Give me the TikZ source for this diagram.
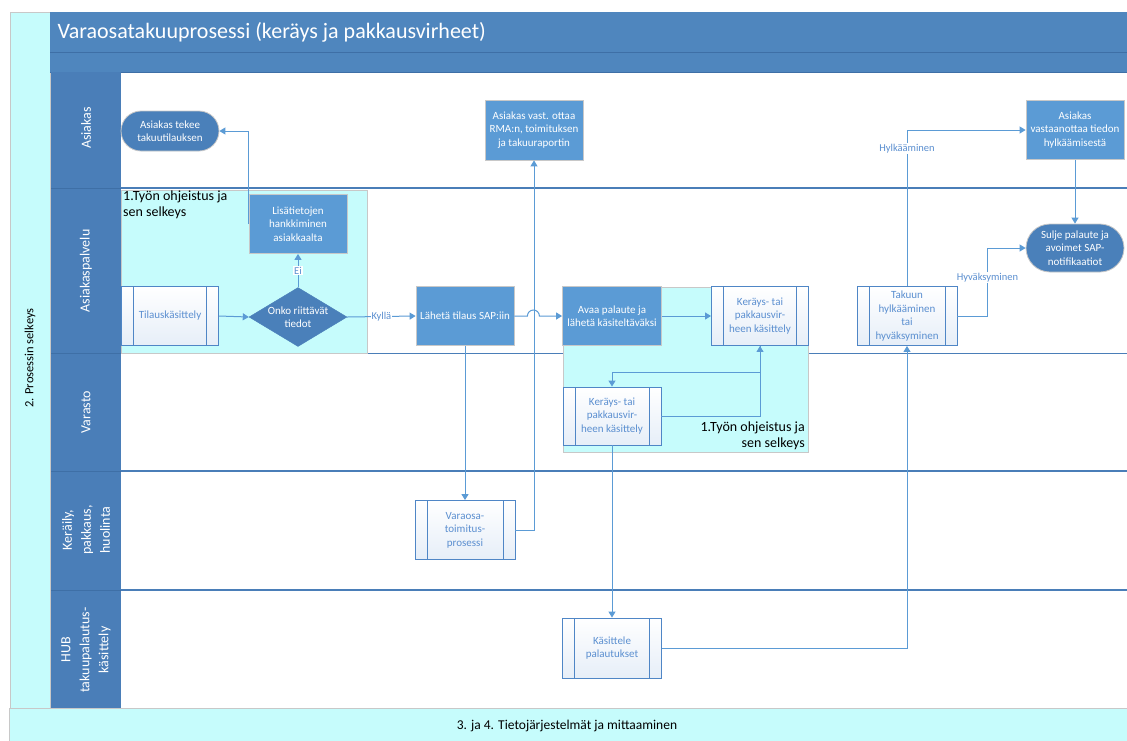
\documentclass[tikz,border=0pt]{standalone}
\usepackage{fontspec}
\setmainfont{Carlito}
\usetikzlibrary{arrows.meta,shapes.geometric,calc}

\definecolor{hdrblue}{HTML}{4F86BE}
\definecolor{hdrline}{HTML}{3E6FA6}
\definecolor{lanelbl}{HTML}{4A7EB8}
\definecolor{procblue}{HTML}{5B9BD5}
\definecolor{termblue}{HTML}{4A80BA}
\definecolor{cyanbg}{HTML}{C6FCFC}
\definecolor{linkblue}{HTML}{5B9BD5}
\definecolor{framegray}{HTML}{C8C8C8}
\definecolor{subline}{HTML}{4F86C6}
\definecolor{subfill}{HTML}{E6EEF8}
\definecolor{subtext}{HTML}{5B8FD0}
\definecolor{sepblue}{HTML}{4A7EB8}

\begin{document}
\begin{tikzpicture}[x=1pt,y=-1pt,
  nodefont/.style={font=\fontsize{11}{13.5}\selectfont},
  proc/.style={nodefont, draw=framegray, line width=0.8pt, fill=procblue, text=white,
    minimum width=98pt, minimum height=59pt, inner sep=1pt, align=center},
  term/.style={nodefont, draw=framegray, line width=0.8pt, fill=termblue, text=white,
    minimum width=98pt, minimum height=40pt, rounded corners=20pt, inner sep=1pt, align=center},
  decision/.style={diamond, draw=termblue, fill=termblue, minimum width=98pt,
    minimum height=59pt, inner sep=0pt},
  subproc/.style={nodefont, draw=subline, line width=0.9pt, top color=white, bottom color=subfill,
    text=subtext, minimum width=98pt, minimum height=59pt, inner sep=1pt, align=center,
    path picture={\draw[subline, line width=0.9pt]
      ([xshift=12pt]path picture bounding box.north west) -- ([xshift=12pt]path picture bounding box.south west)
      ([xshift=-12pt]path picture bounding box.north east) -- ([xshift=-12pt]path picture bounding box.south east);}},
  link/.style={draw=linkblue, line width=1pt, -{Triangle[width=7pt,length=6pt]}},
  lbl/.style={font=\fontsize{10.5}{12}\selectfont, text=subtext, fill=white, inner sep=1pt},
  lanetxt/.style={font=\fontsize{14}{19}\selectfont, text=white, rotate=90, align=center},
  region/.style={fill=cyanbg, draw=framegray, line width=0.8pt},
  regiontxt/.style={font=\fontsize{14}{16}\selectfont, text=black},
  sep/.style={draw=sepblue, line width=1.3pt}
]
\useasboundingbox (0,0) rectangle (1127,740);
\fill[white] (0,0) rectangle (1127,740);

% outer frame: left strip and bottom bar
\draw[region] (10,12) rectangle (50,708);
\node[font=\fontsize{12.5}{14}\selectfont, rotate=90] (leftlbl) at (30,358) {2. Prosessin selkeys};
\draw[region] (9,708) rectangle (1130,742);
\node[font=\fontsize{13.5}{15}\selectfont] (bottomlbl) at (567,726) {3. ja 4. Tietojärjestelmät ja mittaaminen};

% title bars
\fill[hdrblue] (50,12) rectangle (1127,72);
\draw[hdrline, line width=1pt] (50,52) -- (1127,52);
\draw[hdrline, line width=1pt] (50,72) -- (1127,72);
\node[anchor=west, text=white, font=\fontsize{22}{25}\selectfont] (title) at (54,32)
  {Varaosatakuuprosessi (keräys ja pakkausvirheet)};

% lane label column
\fill[lanelbl] (51,72) rectangle (121,708);
\foreach \yy in {188,353,471,590} \draw[hdrline, line width=1pt] (51,\yy) -- (121,\yy);
\node[lanetxt] (lA) at (86,128) {Asiakas};
\node[lanetxt] (lB) at (86,271) {Asiakaspalvelu};
\node[lanetxt] (lC) at (86,412) {Varasto};
\node[lanetxt] (lD) at (86,530) {Keräily,\\pakkaus,\\huolinta};
\node[lanetxt] (lE) at (86,650) {HUB\\takuupalautus-\\käsittely};

% lane separators
\draw[sep, line width=2pt] (121,188) -- (1127,188);
\draw[sep] (121,353.5) -- (1127,353.5);
\draw[sep] (121,471) -- (1127,471);
\draw[sep] (121,590) -- (1127,590);

% shaded regions
\draw[region] (121,190) rectangle (367,353);
\node[regiontxt, anchor=north west, align=left, inner sep=2pt] (reg1) at (121,189) {1.Työn ohjeistus ja\\sen selkeys};
\draw[region] (563,287) rectangle (808,452);
\node[regiontxt, anchor=south east, align=right, inner sep=2pt] (reg2) at (807,452) {1.Työn ohjeistus ja\\sen selkeys};

% Asiakas lane
\node[term] (tekee) at (170,131) {Asiakas tekee\\takuutilauksen};
\node[proc, minimum height=60pt] (vast) at (534,130) {Asiakas vast. ottaa\\RMA:n, toimituksen\\ja takuuraportin};
\node[proc] (vastaan) at (1075,130) {Asiakas\\vastaanottaa tiedon\\hylkäämisestä};

% Asiakaspalvelu lane
\node[proc] (lisa) at (298,224) {Lisätietojen\\hankkiminen\\asiakkaalta};
\node[subproc, minimum width=97pt] (tilaus) at (170,316) {Tilauskäsittely};
\node[decision] (onko) at (298,317) {};
\node[nodefont, text=white, align=center] (onkotxt) at (onko) {Onko riittävät\\tiedot};
\node[proc] (lah) at (465,316) {Lähetä tilaus SAP:iin};
\node[proc, minimum width=99pt] (avaa) at (612,316) {Avaa palaute ja\\lähetä käsiteltäväksi};
\node[subproc, minimum width=97pt] (ker1) at (760,316) {Keräys- tai\\pakkausvir-\\heen käsittely};
\node[subproc, minimum width=100pt] (takuu) at (907,316) {Takuun\\hylkääminen\\tai\\hyväksyminen};
\node[term, minimum height=48pt, rounded corners=24pt] (sulje) at (1075,248) {Sulje palaute ja\\avoimet SAP-\\notifikaatiot};

% Varasto lane
\node[subproc, minimum height=58pt] (ker2) at (612,416) {Keräys- tai\\pakkausvir-\\heen käsittely};

% Keräily lane
\node[subproc, minimum width=100pt] (varaosa) at (465,530) {Varaosa-\\toimitus-\\prosessi};

% HUB lane
\node[subproc, minimum width=99pt, minimum height=60pt] (kasit) at (612,648) {Käsittele\\palautukset};

% connectors
\draw[link] (lisa.west) -- (lisa.north west) |- (tekee.east);
\draw[link] (tilaus.east) -- (onko.west);
\draw[link] (onko.north) -- node[lbl] {Ei} (lisa.south);
\draw[link] (onko.east) -- node[lbl] {Kyllä} (lah.west);
\draw[link] (lah.south) -- (varaosa.north);
\draw[link] (varaosa.east) -| (vast.south);
\draw[link] (lah.east) -- ++(13,0) arc[start angle=180, end angle=0, radius=6pt] -- (avaa.west);
\draw[link] (avaa.east) -- (ker1.west);
\draw[link] (ker1.south) -- ++(0,27) -| (ker2.north);
\draw[link] (ker2.east) -| (ker1.south);
\draw[link] (ker2.south) -- (kasit.north);
\draw[link] (kasit.east) -| (takuu.south);
\draw[link] (takuu.north) |- node[lbl, pos=0.44] {Hylkääminen} (vastaan.west);
\draw[link] (takuu.east) -- ++(30,0) |- node[lbl, pos=0.28] {Hyväksyminen} (sulje.west);
\draw[link] (vastaan.south) -- (sulje.north);
\end{tikzpicture}
\end{document}
